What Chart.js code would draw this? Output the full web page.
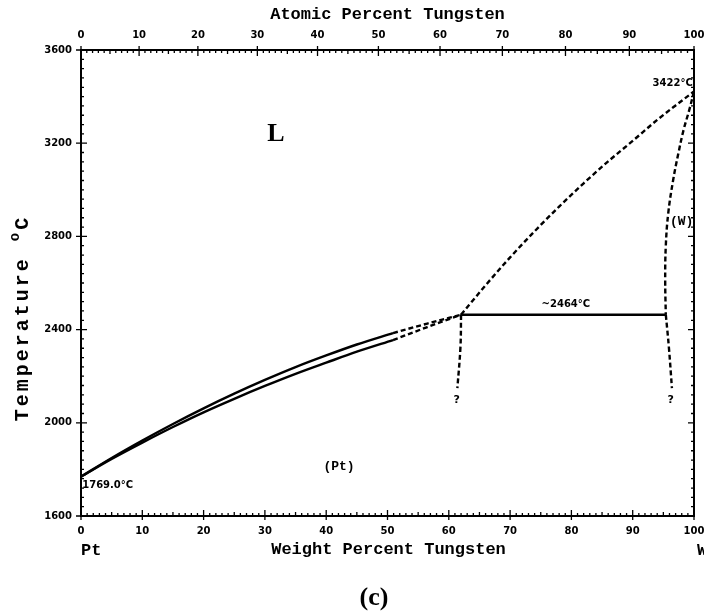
<!DOCTYPE html>
<html><head><meta charset="utf-8">
<script src="https://cdn.jsdelivr.net/npm/chart.js@4/dist/chart.umd.min.js"></script>
<style>html,body{margin:0;padding:0;background:#fff}</style>
</head><body>
<canvas id="c" width="704" height="613"></canvas>
<script>
// ---- data ----
const weightTicks = [0,10,20,30,40,50,60,70,80,90,100];
const atomicTicks = [0,10,20,30,40,50,60,70,80,90,100];
const tempTicks = [1600,2000,2400,2800,3200,3600];
const massW = 183.84, massPt = 195.08;

// [wt% W, temperature °C]
const liquidusPtSolid = [[0,1769],[5,1849],[10,1924],[15,1995],[20,2062],[25,2125],[30,2184],[35,2239],[40,2289],[45,2336],[50.9,2385]];
const solidusPtSolid  = [[0,1769],[5,1845],[10,1915],[15,1982],[20,2045],[25,2103],[30,2158],[35,2210],[40,2258],[45,2305],[50.9,2355]];
const liquidusPtDash  = [[50.9,2385],[56.5,2426],[62,2464]];
const solidusPtDash   = [[50.9,2355],[56.5,2411],[62,2464]];
const liquidusWDash   = [[62,2464],[66,2590],[70,2710],[74,2822],[78,2928],[82,3028],[86,3122],[90,3210],[94,3300],[97,3362],[100,3422]];
const solidusWDash    = [[100,3422],[99.2,3340],[98.3,3257],[97.4,3150],[96.6,3042],[95.8,2900],[95.4,2760],[95.3,2613],[95.4,2464]];
const solvusWDash     = [[95.4,2464],[95.9,2325],[96.4,2149]];
const solvusPtDash    = [[62,2464],[61.9,2325],[61.4,2149]];
const peritectic      = [[62,2464],[95.4,2464]];

const annotations = [
  {text:'L', wt:31.8, t:3239, font:'bold 26px "Liberation Serif"', align:'center'},
  {text:'(Pt)', wt:42.1, t:1810, font:'bold 13px "Liberation Mono"', align:'center'},
  {text:'(W)', wt:99.9, t:2862, font:'bold 13px "Liberation Mono"', align:'right'},
  {text:'3422°C', wt:99.8, t:3458, font:'bold 10px "DejaVu Sans"', align:'right'},
  {text:'~2464°C', wt:79.1, t:2506, font:'bold 10px "DejaVu Sans"', align:'center'},
  {text:'1769.0°C', wt:0.2, t:1733, font:'bold 10px "DejaVu Sans"', align:'left'},
  {text:'?', wt:61.3, t:2098, font:'bold 11px "DejaVu Sans"', align:'center'},
  {text:'?', wt:96.2, t:2098, font:'bold 11px "DejaVu Sans"', align:'center'}
];

const atomicToWeight = a => 100 * a * massW / (a * massW + (100 - a) * massPt);
const pts = arr => arr.map(([x, y]) => ({x, y}));

function line(arr, dashed, mono) {
  const d = {data: pts(arr), showLine: true, pointRadius: 0, borderColor: '#000',
          borderWidth: 2.4, borderDash: dashed ? [5, 3] : [], fill: false};
  if (mono) d.cubicInterpolationMode = 'monotone'; else d.tension = 0.4;
  return d;
}

const tickFont = {family: 'DejaVu Sans', weight: 'bold', size: 10};

const decor = {
  id: 'decor',
  afterDraw(chart) {
    const ctx = chart.ctx;
    const {left, right, top, bottom} = chart.chartArea;
    const xs = chart.scales.x, ys = chart.scales.y;
    ctx.save();
    ctx.strokeStyle = '#000';
    ctx.lineWidth = 1.3;
    ctx.beginPath();
    for (let v = 0; v <= 100; v++) {
      const px = xs.getPixelForValue(v);
      const major = v % 10 === 0;
      const L = major ? 6 : (v % 5 === 0 ? 4 : 3);
      ctx.moveTo(px, bottom + (major ? 4 : 0)); ctx.lineTo(px, bottom - L);
    }
    for (let a = 0; a <= 100; a++) {
      const px = xs.getPixelForValue(atomicToWeight(a));
      const major = a % 10 === 0;
      const L = major ? 6 : (a % 5 === 0 ? 4 : 3);
      ctx.moveTo(px, top - (major ? 4 : 0)); ctx.lineTo(px, top + L);
    }
    for (let t = 1600; t <= 3600; t += 40) {
      const py = ys.getPixelForValue(t);
      const major = t % 400 === 0;
      const L = major ? 6 : 3;
      ctx.moveTo(left - (major ? 5 : 0), py); ctx.lineTo(left + L, py);
      ctx.moveTo(right, py); ctx.lineTo(right - L, py);
    }
    ctx.stroke();
    ctx.lineWidth = 2;
    ctx.beginPath();
    ctx.moveTo(right, top); ctx.lineTo(right, bottom);
    ctx.stroke();

    ctx.fillStyle = '#000';
    ctx.textBaseline = 'middle';
    for (const a of annotations) {
      ctx.font = a.font;
      ctx.textAlign = a.align;
      ctx.fillText(a.text, xs.getPixelForValue(a.wt), ys.getPixelForValue(a.t));
    }

    // titles
    const mid = (left + right) / 2;
    ctx.font = 'bold 17px "Liberation Mono"';
    ctx.textAlign = 'center';
    ctx.fillText('Atomic Percent Tungsten', mid, 15);
    ctx.fillText('Weight Percent Tungsten', mid + 1, 550);
    ctx.textAlign = 'left';
    ctx.fillText('Pt', left, 551);
    ctx.fillText('W', right + 3, 551);
    ctx.font = 'bold 26px "Liberation Serif"';
    ctx.textAlign = 'center';
    ctx.fillText('(c)', 374, 598);

    // y title
    ctx.translate(28, 318);
    ctx.rotate(-Math.PI / 2);
    ctx.textBaseline = 'alphabetic';
    ctx.textAlign = 'left';
    ctx.letterSpacing = '3px';
    ctx.font = 'bold 20px "Liberation Mono"';
    const t1 = 'Temperature ';
    const w1 = ctx.measureText(t1).width;
    ctx.font = 'bold 14px "Liberation Mono"';
    const wo = ctx.measureText('o').width;
    ctx.font = 'bold 20px "Liberation Mono"';
    const wc = ctx.measureText('C').width;
    const x0 = -(w1 + wo + wc) / 2;
    ctx.fillText(t1, x0, 0);
    ctx.font = 'bold 14px "Liberation Mono"';
    ctx.fillText('o', x0 + w1, -9);
    ctx.font = 'bold 20px "Liberation Mono"';
    ctx.fillText('C', x0 + w1 + wo, 0);
    ctx.restore();
  }
};

new Chart(document.getElementById('c'), {
  type: 'scatter',
  data: {datasets: [
    line(liquidusPtSolid, false, true), line(solidusPtSolid, false, true),
    line(liquidusPtDash, true, true), line(solidusPtDash, true, true),
    line(liquidusWDash, true, true), line(solidusWDash, true, false),
    line(solvusWDash, true, false), line(solvusPtDash, true, false),
    line(peritectic, false, true)
  ]},
  options: {
    responsive: false, animation: false, devicePixelRatio: 1,
    layout: {padding: 0},
    plugins: {legend: {display: false}, tooltip: {enabled: false}},
    scales: {
      x: {type: 'linear', position: 'bottom', min: 0, max: 100,
          afterBuildTicks: s => { s.ticks = weightTicks.map(v => ({value: v})); },
          ticks: {font: tickFont, color: '#000', padding: 9, maxRotation: 0, autoSkip: false},
          grid: {drawOnChartArea: false, drawTicks: false},
          border: {display: true, color: '#000', width: 2},
          afterFit: s => { s.height = 97; s.paddingLeft = 0; s.paddingRight = 10; }},
      x2: {type: 'linear', position: 'top', min: 0, max: 100,
          afterBuildTicks: s => { s.ticks = atomicTicks.map(a => ({value: atomicToWeight(a)})); },
          ticks: {font: tickFont, color: '#000', padding: 9, maxRotation: 0, autoSkip: false,
                  callback: (v, i) => String(atomicTicks[i])},
          grid: {drawOnChartArea: false, drawTicks: false},
          border: {display: true, color: '#000', width: 2},
          afterFit: s => { s.height = 50; s.paddingLeft = 0; s.paddingRight = 10; }},
      y: {type: 'linear', position: 'left', min: 1600, max: 3600,
          afterBuildTicks: s => { s.ticks = tempTicks.map(v => ({value: v})); },
          ticks: {font: tickFont, color: '#000', padding: 9, autoSkip: false,
                  callback: v => String(v)},
          grid: {drawOnChartArea: false, drawTicks: false},
          border: {display: true, color: '#000', width: 2},
          afterFit: s => { s.width = 81; s.paddingTop = 0; s.paddingBottom = 0; }}
    }
  },
  plugins: [decor]
});
</script>
</body></html>
